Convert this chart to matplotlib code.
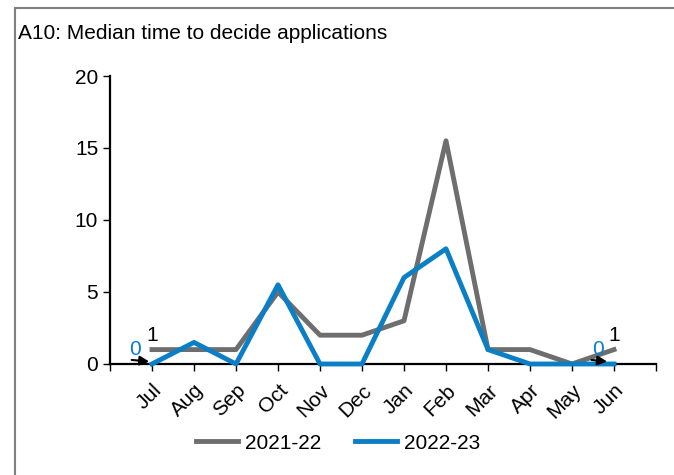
import matplotlib.pyplot as plt
from matplotlib.patches import Rectangle

plt.rcParams['font.family'] = ['Liberation Sans', 'DejaVu Sans']

months = ['Jul', 'Aug', 'Sep', 'Oct', 'Nov', 'Dec', 'Jan', 'Feb', 'Mar', 'Apr', 'May', 'Jun']
y2122 = [1, 1, 1, 5, 2, 2, 3, 15.5, 1, 1, 0, 1]
y2223 = [0, 1.5, 0, 5.5, 0, 0, 6, 8, 1, 0, 0, 0]
labels = ['2021-22', '2022-23']

grey = '#6e6e6e'
blue = '#0a7fc6'

fig = plt.figure(figsize=(6.74, 4.75), dpi=100)
ax = fig.add_axes([0.1632, 0.2337, 0.8101, 0.6063])

x = range(len(months))
ax.plot(x, y2122, color=grey, lw=3.5, label=labels[0], clip_on=False, zorder=3)
ax.plot(x, y2223, color=blue, lw=3.5, label=labels[1], clip_on=False, zorder=4)

ax.set_xlim(-1, 12)
ax.set_ylim(0, 20)
ax.set_yticks([0, 5, 10, 15, 20])
ax.set_xticks(list(x))
ax.set_xticklabels(months, rotation=45, ha='right', va='top', rotation_mode='anchor')
ax.set_xticks([-1, 12], minor=True)
ax.tick_params(axis='both', labelsize=15, width=1, length=5, color='black')
ax.tick_params(axis='x', which='minor', length=5, width=1)
ax.tick_params(axis='x', pad=7)
for s in ['top', 'right']:
    ax.spines[s].set_visible(False)
for s in ['left', 'bottom']:
    ax.spines[s].set_linewidth(1.6)

# end-point labels
ax.text(0, 1.3, str(y2122[0]), color='black', fontsize=15, ha='center', va='bottom')
ax.text(-0.4, 0.35, str(y2223[0]), color=blue, fontsize=15, ha='center', va='bottom')
ax.text(11, 1.3, str(y2122[-1]), color='black', fontsize=15, ha='center', va='bottom')
ax.text(10.62, 0.35, str(y2223[-1]), color=blue, fontsize=15, ha='center', va='bottom')
ax.annotate('', xy=(0.0, 0.15), xytext=(-0.55, 0.3),
            arrowprops=dict(arrowstyle='-|>', color='black', lw=1.5, mutation_scale=14), zorder=5)
ax.annotate('', xy=(10.9, 0.15), xytext=(10.4, 0.3),
            arrowprops=dict(arrowstyle='-|>', color='black', lw=1.5, mutation_scale=14), zorder=5)

fig.text(0.027, 0.93, 'A10: Median time to decide applications', fontsize=15, ha='left', va='center')

fig.legend(loc='center', bbox_to_anchor=(0.502, 0.067), ncol=2, frameon=False,
           fontsize=15, handlelength=2.0, handletextpad=0.35, columnspacing=1.6)

fig.patches.append(Rectangle((15 / 674, -0.05), 1.2, 1 - 8 / 475 + 0.05, transform=fig.transFigure,
                             fill=False, edgecolor='#808080', lw=1.5))

fig.savefig('out.png', dpi=100)
